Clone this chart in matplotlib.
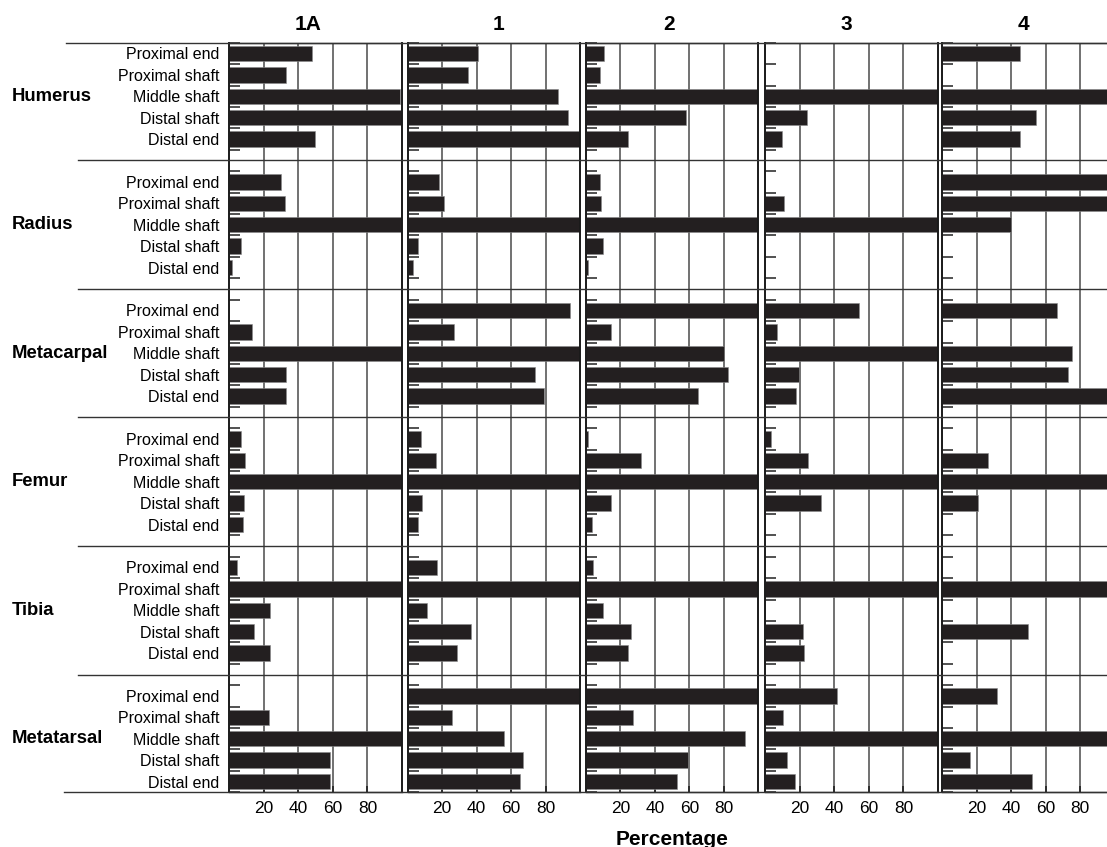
import matplotlib
matplotlib.use("Agg")
import matplotlib.pyplot as plt
import matplotlib.transforms as mtransforms
from matplotlib.lines import Line2D
import numpy as np

plt.rcParams['font.family'] = ['Liberation Sans', 'DejaVu Sans']

# ---- data ----
bones = ["Humerus", "Radius", "Metacarpal", "Femur", "Tibia", "Metatarsal"]
parts = ["Proximal end", "Proximal shaft", "Middle shaft", "Distal shaft", "Distal end"]
panels = ["1A", "1", "2", "3", "4"]

v_1A = [48, 33, 99, 100, 49.5,
        30, 32, 100, 6.7, 1.7,
        0, 13, 100, 33, 33,
        7, 9, 100, 8.6, 7.8,
        4.6, 100, 23.5, 14, 23.5,
        0, 23, 100, 58, 58]
v_1 = [41, 35, 87, 93, 100,
       18, 21, 100, 6, 3.2,
       94, 27, 100, 74, 79,
       8, 16.5, 100, 8.4, 6,
       17, 100, 11, 36.5, 28.5,
       100, 26, 56, 67, 65]
v_2 = [10.4, 8.2, 100, 58, 24.6,
       8, 9, 100, 9.8, 1.3,
       100, 14.6, 80, 82.5, 65,
       1.5, 32, 100, 14.8, 3.6,
       4.2, 100, 9.8, 26, 24.4,
       100, 27.3, 92, 59, 53]
v_3 = [0, 0, 100, 24.2, 9.8,
       0, 10.9, 100, 0, 0,
       54, 6.5, 100, 19.6, 17.7,
       3.4, 24.4, 100, 32, 0,
       0, 100, 0, 21.5, 22.3,
       41.6, 10.4, 100, 12.3, 17.3]
v_4 = [45.3, 0, 100, 54.5, 45.3,
       100, 100, 40, 0, 0,
       66.5, 0, 75.5, 72.7, 100,
       0, 26.8, 100, 21, 0,
       0, 100, 0, 50, 0,
       32, 0, 100, 16, 52]
values = [v_1A, v_1, v_2, v_3, v_4]
xticks = [20, 40, 60, 80]

# ---- layout (pixels) ----
W, H = 1107, 847
fig = plt.figure(figsize=(W / 100, H / 100), dpi=100)
top_px, bot_px = 42.7, 792.3
panel_left = [229.4, 407.6, 585.8, 765.4, 942.1]
panel_w = 172.6
title_cx = [308, 498.5, 669.5, 846.7, 1023.5]

n_slots = len(bones) * 6 - 1
bar_pos = np.array([g * 6 + i + 0.5 for g in range(len(bones)) for i in range(len(parts))])

bar_color = '#231f20'
grid_color = '#4a4a4a'
axes = []
for p, (name, vals) in enumerate(zip(panels, values)):
    ax = fig.add_axes([panel_left[p] / W, (H - bot_px) / H, panel_w / W, (bot_px - top_px) / H])
    axes.append(ax)
    ax.set_xlim(0, 100)
    ax.set_ylim(n_slots, 0)
    for xv in xticks:
        ax.axvline(xv, color=grid_color, lw=1.1, zorder=0.5)
    ax.barh(bar_pos, vals, height=0.72, color=bar_color, edgecolor='#8a8a8a',
            linewidth=0.4, zorder=2)
    for s in ['left', 'right']:
        ax.spines[s].set_linewidth(1.4)
        ax.spines[s].set_color('#1a1a1a')
    for s in ['top', 'bottom']:
        ax.spines[s].set_linewidth(1.0)
        ax.spines[s].set_color('#333333')
    ax.set_yticks(np.arange(0, n_slots + 1))
    ax.tick_params(axis='y', which='major', direction='in', length=8, width=1.1,
                   color='#222222', labelleft=False, left=True)
    ax.set_yticks(bar_pos, minor=True)
    if p == 0:
        ax.set_yticklabels([parts[i % 5] for i in range(len(bar_pos))], minor=True)
        ax.tick_params(axis='y', which='minor', length=0, pad=7, labelsize=11.5)
    else:
        ax.tick_params(axis='y', which='minor', length=0, labelleft=False)
    ax.set_xticks(xticks)
    ax.set_xticklabels([str(t) for t in xticks])
    ax.tick_params(axis='x', direction='in', length=4, width=1.2, color='#222222',
                   labelsize=12.5, pad=6.5)
    fig.text(title_cx[p] / W, 1 - 25 / H, name, ha='center', va='center',
             fontsize=15, fontweight='bold')

ax0 = axes[0]
blend = mtransforms.blended_transform_factory(fig.transFigure, ax0.transData)

# horizontal rules across the whole figure
fig.add_artist(Line2D([66 / W, 1], [0, 0], transform=blend, color='#333333', lw=1.0, zorder=3))
fig.add_artist(Line2D([64 / W, 1], [n_slots, n_slots], transform=blend, color='#333333', lw=1.0, zorder=3))
for g in range(len(bones) - 1):
    y = g * 6 + 5.5
    fig.add_artist(Line2D([78 / W, 1], [y, y], transform=blend, color='#333333', lw=1.0, zorder=3))

for g, b in enumerate(bones):
    fig.text(12 / W, g * 6 + 2.5, b, transform=blend, ha='left', va='center',
             fontsize=13.3, fontweight='bold')

fig.text(672 / W, 2 / H, "Percentage", ha='center', va='baseline',
         fontsize=15, fontweight='bold')

fig.savefig("out.png", dpi=100)
